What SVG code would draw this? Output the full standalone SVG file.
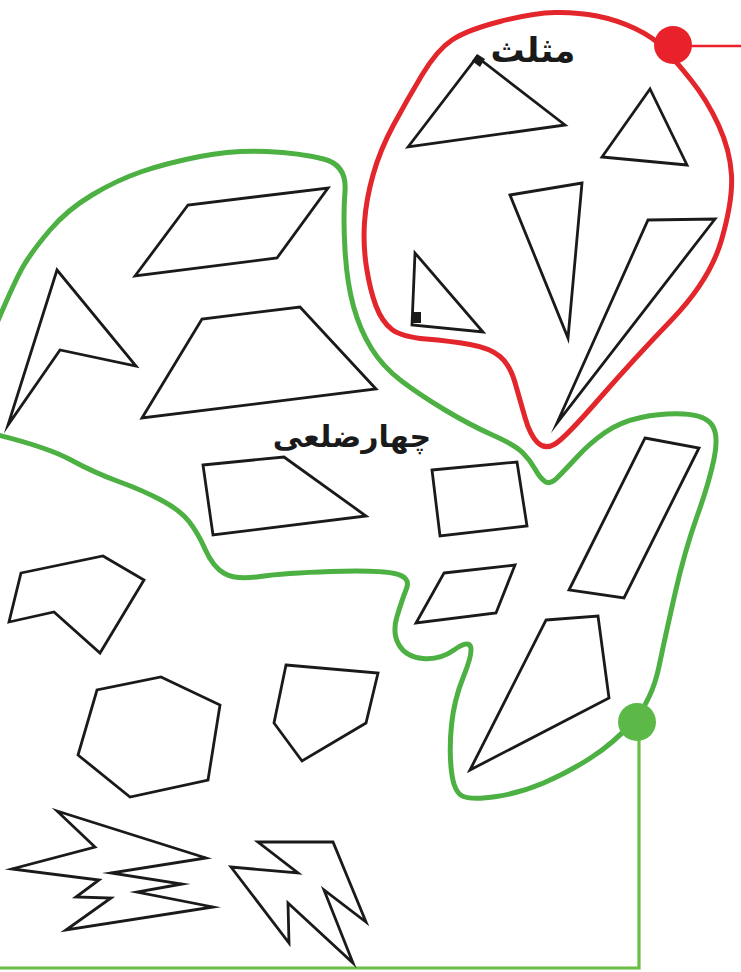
<svg xmlns="http://www.w3.org/2000/svg" width="741" height="972" viewBox="0 0 741 972">
<style>
.sh{fill:none;stroke:#1a1a1a;stroke-width:2.8;stroke-linejoin:miter;stroke-miterlimit:20}
.lbl{font-family:"DejaVu Sans",sans-serif;fill:#1a1a1a;text-anchor:middle;font-weight:bold}
</style>
<rect width="741" height="972" fill="#ffffff"/>
<g id="connectors">
<line x1="673" y1="46" x2="741" y2="46" stroke="#e8212a" stroke-width="2.5"/>
<polyline points="639,722 639,968 0,968" fill="none" stroke="#6abd45" stroke-width="3.2"/>
</g>
<g id="triangle-set">
<path d="M664,48.5 Q653,37 635,28.5 Q617,20 597,16 Q577,12 555,12.5 Q533,13 500,21.5 Q467,30 452,40 Q437,50 422,75 Q407,100 393.5,125 Q380,150 373,175 Q366,200 364.5,222.5 Q363,245 366.5,267.5 Q370,290 376,306 Q382,322 392,329.5 Q402,337 426,339 Q450,341 470,344.5 Q490,348 500,356.5 Q510,365 515,382.5 Q520,400 525,417.5 Q530,435 537.5,442.5 Q545,450 555,444 Q565,438 599,399 Q633,360 671.5,320 Q710,280 721.5,240 Q733,200 731.5,175 Q730,150 718.5,125 Q707,100 691,80 Q675,60 664,48.5 Z" fill="none" stroke="#e3262b" stroke-width="5"/>
<circle cx="673" cy="45" r="19" fill="#e8212a"/>
<text class="lbl" x="533" y="62" font-size="34">مثلث</text>
</g>
<g id="quadrilateral-set">
<path d="M-6,330 Q15,280 24,265 Q33,250 50,230 Q67,210 92,195 Q117,180 142,171.5 Q167,163 200,156.5 Q233,150 266.5,151.5 Q300,153 323.5,159 Q347,165 345,191 Q343,217 345,250 Q347,283 353.5,306.5 Q360,330 371.5,348.5 Q383,367 401.5,381 Q420,395 445,410 Q470,425 492.5,435 Q515,445 522.5,452.5 Q530,460 535,469 Q540,478 545,481.5 Q550,485 557.5,477.5 Q565,470 577.5,456.5 Q590,443 605,432.5 Q620,422 641,417.5 Q662,413 683.5,414 Q705,415 712,425 Q719,435 714,459 Q709,483 697,516.5 Q685,550 675.5,591.5 Q666,633 659,666.5 Q652,700 633,721.5 Q614,743 590.5,758 Q567,773 543.5,783 Q520,793 496.5,796.5 Q473,800 463.5,796.5 Q454,793 451.5,771.5 Q449,750 451.5,725 Q454,700 463.5,676.5 Q473,653 470.5,646.5 Q468,640 454,650 Q440,660 423,658.5 Q406,657 399,645 Q392,633 397,616.5 Q402,600 406.5,588.5 Q411,577 394.5,573.5 Q378,570 331,571.5 Q284,573 260,576.5 Q236,580 224.5,573.5 Q213,567 205.5,550 Q198,533 189,521.5 Q180,510 161,500 Q142,490 118.5,481.5 Q95,473 71,460 Q47,447 -6,434" fill="none" stroke="#4cb043" stroke-width="5"/>
<circle cx="637" cy="722" r="19" fill="#5cb947"/>
<text class="lbl" x="352" y="447" font-size="30">چهارضلعی</text>
</g>
<g id="triangles">
<polygon class="sh" points="408,147 477,57 565,125"/>
<path d="M472,61 L477,54 L485,59 L480,67 Z" fill="#1a1a1a"/>
<polygon class="sh" points="650,89 602,157 687,165"/>
<polygon class="sh" points="510,195 582,183 568,338"/>
<polygon class="sh" points="648,220 715,219 557,423"/>
<polygon class="sh" points="415,253 412,325 483,332"/>
<rect x="412" y="312" width="9" height="11" fill="#1a1a1a"/>
</g>
<g id="quadrilaterals">
<polygon class="sh" points="135,276 188,205 328,188 277,258"/>
<polygon class="sh" points="57,270 136,366 60,350 8,425"/>
<polygon class="sh" points="142,418 202,319 300,307 376,389"/>
<polygon class="sh" points="203,465 284,457 366,516 213,535"/>
<polygon class="sh" points="432,470 517,462 527,526 440,536"/>
<polygon class="sh" points="444,573 515,565 496,613 416,623"/>
<polygon class="sh" points="645,438 699,448 624,598 569,590"/>
<polygon class="sh" points="546,620 598,616 609,698 470,770"/>
</g>
<g id="other-polygons">
<polygon class="sh" points="21,573 103,556 144,580 100,653 54,612 9,622"/>
<polygon class="sh" points="161,677 220,705 208,780 130,797 78,755 97,690"/>
<polygon class="sh" points="286,665 378,673 366,723 302,761 274,723"/>
<polygon class="sh" points="57,811 206,858 111,873 182,884 137,892 213,907 66,930 111,898 76,897 99,880 12,869 95,847"/>
<polygon class="sh" points="258,842 333,842 366,922 324,890 353,963 288,903 289,943 231,867 298,873"/>
</g>
</svg>
